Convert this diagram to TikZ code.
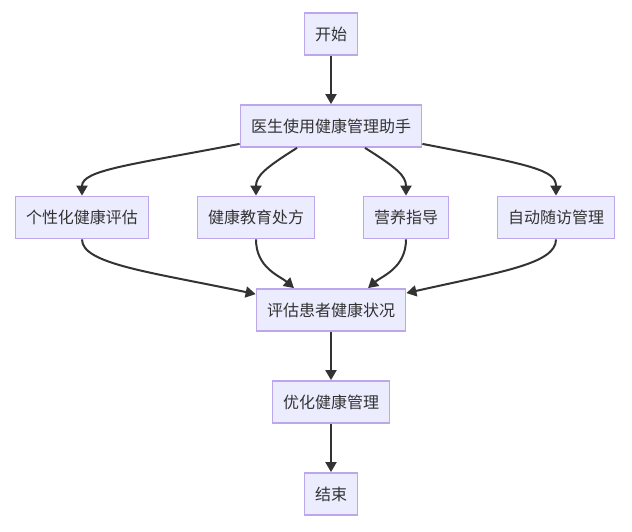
\documentclass[tikz,border=0pt]{standalone}
\usepackage{fontspec}
\setmainfont{Noto Sans CJK SC}
\usetikzlibrary{arrows.meta,calc}
\definecolor{boxfill}{HTML}{ECECFF}
\definecolor{boxline}{HTML}{BBA7EA}
\definecolor{edgecol}{HTML}{333333}
\begin{document}
\begin{tikzpicture}[x=1pt,y=-1pt,
  box/.style={draw=boxline,fill=boxfill,line width=1.8pt,minimum height=42pt,
    inner xsep=10.5pt,inner ysep=0pt,font=\fontsize{16}{19}\selectfont,text=edgecol},
  flow/.style={draw=edgecol,line width=2pt,-{Triangle[length=10pt,width=11pt]}}]
\useasboundingbox (0,0) rectangle (632,532);
\node[box] (start) at (331,34) {开始};
\node[box] (doc) at (331,126) {医生使用健康管理助手};
\node[box] (ind) at (82,217.5) {个性化健康评估};
\node[box] (edu) at (256,217.5) {健康教育处方};
\node[box] (nut) at (406,217.5) {营养指导};
\node[box] (fol) at (556,217.5) {自动随访管理};
\node[box] (ev) at (331,310) {评估患者健康状况};
\node[box] (opt) at (331,402) {优化健康管理};
\node[box] (end) at (331,494) {结束};

\draw[flow] (start) -- (doc);
\draw[flow] ([yshift=4pt]doc.south west) .. controls (130,165) and (82,170) .. (ind.north);
\draw[flow] ([xshift=-34pt]doc.south) .. controls (265,168) and (256,176) .. (edu.north);
\draw[flow] ([xshift=34pt]doc.south) .. controls (397,168) and (406,176) .. (nut.north);
\draw[flow] ([yshift=4pt]doc.south east) .. controls (532,165) and (556,170) .. (fol.north);

\draw[flow] (ind.south) .. controls (82,264) and (150,272) .. ([yshift=-6pt]ev.north west);
\draw[flow] (edu.south) .. controls (256,268) and (280,276) .. ([xshift=-37pt]ev.north);
\draw[flow] (nut.south) .. controls (406,268) and (382,276) .. ([xshift=37pt]ev.north);
\draw[flow] (fol.south) .. controls (556,264) and (500,272) .. ([yshift=-5pt]ev.north east);

\draw[flow] (ev) -- (opt);
\draw[flow] (opt) -- (end);
\end{tikzpicture}
\end{document}
